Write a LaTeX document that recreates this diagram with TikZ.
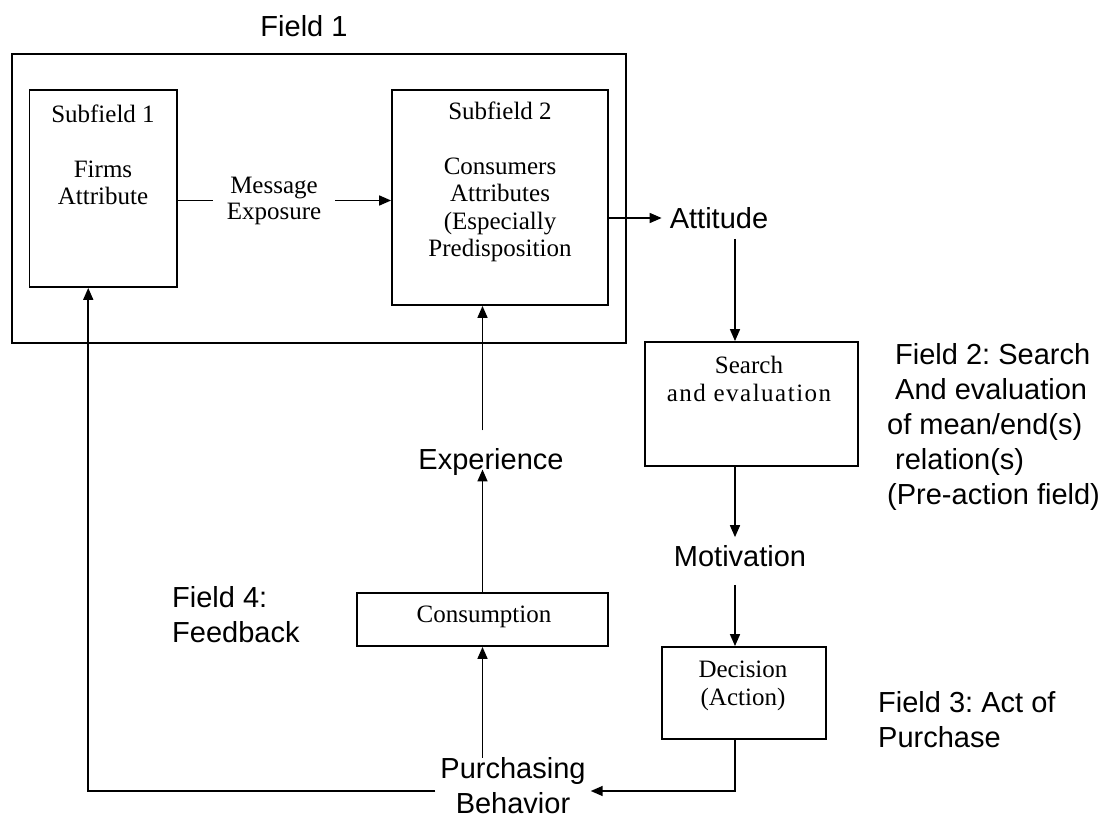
\documentclass[tikz,border=0pt]{standalone}
\usepackage{fontspec}
\setmainfont{Liberation Serif}
\newfontfamily\diagsans{Liberation Sans}
\usetikzlibrary{arrows.meta,calc}
\frenchspacing
\begin{document}
\begin{tikzpicture}[x=1pt,y=-1pt,
  box/.style={draw, line width=1.8pt, inner sep=0pt},
  serif/.style={font=\fontsize{25}{27.5}\selectfont, align=center, inner sep=0pt},
  sans/.style={font=\diagsans\fontsize{29}{35}\selectfont, inner sep=0pt},
  conn/.style={line width=1.6pt},
  arr/.style={conn, -{Triangle[length=12pt,width=10pt]}}]
\useasboundingbox (0,0) rectangle (1120,818);

% boxes
\node[box, minimum width=614pt, minimum height=289pt] (field1) at (319,198.5) {};
\node[box, minimum width=147.5pt, minimum height=197pt] (sub1) at (103.25,188.5) {};
\node[box, minimum width=216pt, minimum height=215pt] (sub2) at (500,197.5) {};
\node[box, minimum width=213pt, minimum height=124pt] (srch) at (751.5,404) {};
\node[box, minimum width=164pt, minimum height=92pt] (dec) at (744,693) {};
\node[box, minimum width=251pt, minimum height=53pt] (cons) at (482.5,619.5) {};

% texts
\node[sans] (f1lbl) at (304,26) {Field 1};
\node[serif] (sub1txt) at (103,155) {Subfield 1\\[27.5pt]Firms\\Attribute};
\node[serif] (sub2txt) at (500,182) {Subfield 2\\[27.5pt]Consumers\\Attributes\\(Especially\\Predisposition};
\node[serif, inner xsep=14pt, font=\fontsize{25}{26}\selectfont] (msg) at (274,200.5) {Message\\Exposure};
\node[sans, inner xsep=8pt] (att) at (719,218) {Attitude};
\node[serif, font=\fontsize{25}{28}\selectfont] (srchtxt) at (749,379)
  {Search\\{\addfontfeature{LetterSpace=6}and evaluation}};
\node[sans, align=left, anchor=west] (f2) at (887,427)
  {\hspace*{8pt}Field 2: Search\\\hspace*{8pt}And evaluation\\of mean/end(s)\\\hspace*{8pt}relation(s)\\(Pre-action field)};
\node[sans] (mot) at (740,556) {Motivation};
\node[serif] (dectxt) at (743,686) {Decision\\(Action)};
\node[sans, align=left, anchor=west] (f3) at (878,719.5) {Field 3: Act of\\Purchase};
\node[serif] (constxt) at (484,617) {Consumption};
\node[sans] (exp) at (491,462) {Experience};
\node[sans, align=left, anchor=west] (f4) at (172,614.5) {Field 4:\\Feedback};
\node[sans, align=center, inner xsep=5pt] (pb) at (513,786) {Purchasing\\Behavior};

% vertical spine on the right
\coordinate (spine) at (735,0);

% connectors
\draw[conn] (sub1.east |- msg.west) -- (msg.west);
\draw[arr] (msg.east) -- (sub2.west |- msg.east);
\draw[arr] (sub2.east |- att.west) -- (att.west);
\draw[arr] ($(spine |- att.south)+(0,10)$) -- (spine |- srch.north);
\draw[arr] (spine |- srch.south) -- ($(spine |- mot.north)+(0,-8)$);
\draw[arr] ($(spine |- mot.south)+(0,18)$) -- (spine |- dec.north);
\draw[arr] (spine |- dec.south) |- ($(pb.east)+(0,5)$);
\draw[arr] ($(pb.west)+(0,5)$) -| ($(sub1.south)+(-15,0)$);
\draw[arr] (cons.south |- pb.north) -- (cons.south);
\draw[arr] (cons.north) -- (cons.north |- exp.base);
\draw[arr] ($(cons.north |- exp.north)+(0,-18)$) -- (cons.north |- sub2.south);
\end{tikzpicture}
\end{document}
